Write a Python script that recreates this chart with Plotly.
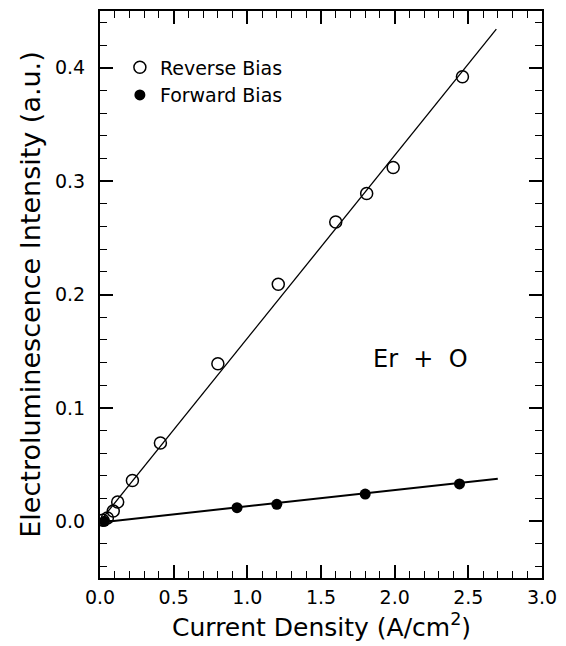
import plotly.graph_objects as go

# Data
rev_x = [0.02, 0.05, 0.09, 0.12, 0.22, 0.41, 0.80, 1.21, 1.60, 1.81, 1.99, 2.46]
rev_y = [0.001, 0.003, 0.009, 0.017, 0.036, 0.069, 0.139, 0.209, 0.264, 0.289, 0.312, 0.392]
fwd_x = [0.03, 0.93, 1.20, 1.80, 2.44]
fwd_y = [0.000, 0.012, 0.015, 0.024, 0.033]
rev_fit_x = [0.0, 2.69]
rev_fit_y = [0.0, 0.434]
fwd_fit_x = [0.0, 2.70]
fwd_fit_y = [-0.001, 0.0375]
x_ticks = [0.0, 0.5, 1.0, 1.5, 2.0, 2.5, 3.0]
y_ticks = [0.0, 0.1, 0.2, 0.3, 0.4]

FONT = "DejaVu Sans"

fig = go.Figure()
fig.add_trace(go.Scatter(x=rev_fit_x, y=rev_fit_y, mode="lines",
                         line=dict(color="black", width=1.3), showlegend=False))
fig.add_trace(go.Scatter(x=fwd_fit_x, y=fwd_fit_y, mode="lines",
                         line=dict(color="black", width=2), showlegend=False))
fig.add_trace(go.Scatter(x=rev_x, y=rev_y, mode="markers", name="Reverse Bias",
                         marker=dict(symbol="circle-open", size=12, color="black",
                                     line=dict(width=1.5, color="black"))))
fig.add_trace(go.Scatter(x=fwd_x, y=fwd_y, mode="markers", name="Forward Bias",
                         marker=dict(symbol="circle", size=11, color="black")))

axis_common = dict(
    showline=True, linecolor="black", linewidth=2, mirror="allticks",
    ticks="inside", ticklen=13, tickwidth=1.5, tickcolor="black",
    showgrid=False, zeroline=False,
    tickfont=dict(family=FONT, size=19, color="black"),
)

fig.update_xaxes(range=[0, 3.0], tickvals=x_ticks,
                 ticktext=[f"{v:.1f}" for v in x_ticks],
                 ticklabelstandoff=1,
                 minor=dict(dtick=0.1, ticks="inside", ticklen=7, tickwidth=1.2,
                            tickcolor="black", showgrid=False),
                 **axis_common)
fig.update_yaxes(range=[-0.05, 0.45], tickvals=y_ticks,
                 ticktext=[f"{v:.1f}" for v in y_ticks],
                 ticklabelstandoff=9,
                 minor=dict(dtick=0.02, ticks="inside", ticklen=7, tickwidth=1.2,
                            tickcolor="black", showgrid=False),
                 title=dict(text="Electroluminescence Intensity (a.u.)",
                            font=dict(family=FONT, size=27, color="black"),
                            standoff=7),
                 **axis_common)

fig.add_annotation(x=0.5, y=-0.083, xref="paper", yref="paper",
                   text="Current Density (A/cm<sup>2</sup>)",
                   showarrow=False, xanchor="center", yanchor="middle",
                   font=dict(family=FONT, size=25, color="black"))

fig.add_annotation(x=1.84, y=0.143, xref="x", yref="y", text="Er&nbsp; +&nbsp; O",
                   showarrow=False, xanchor="left",
                   font=dict(family=FONT, size=24, color="black"))

fig.update_layout(
    width=566, height=646,
    margin=dict(l=100, r=17, t=9, b=68),
    paper_bgcolor="white", plot_bgcolor="white",
    legend=dict(x=0.045, y=0.934, xanchor="left", yanchor="top",
                bgcolor="rgba(0,0,0,0)", borderwidth=0,
                font=dict(family=FONT, size=19, color="black"),
                itemsizing="trace", tracegroupgap=0),
    showlegend=True,
)

fig.write_html("out.html")
